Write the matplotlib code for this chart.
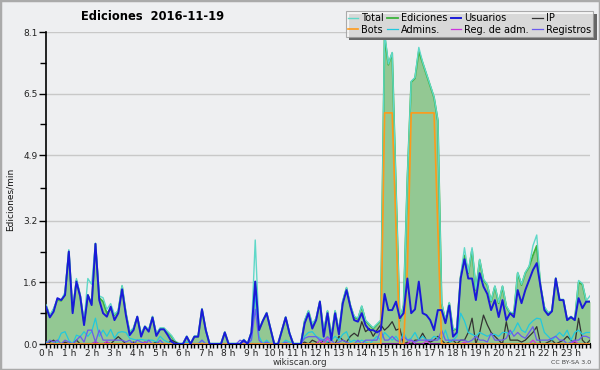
import numpy as np
import matplotlib
matplotlib.use("Agg")
import matplotlib.pyplot as plt
from matplotlib.patches import Rectangle

# 10-minute steps over the day (144 points), values in edits/min
hours = np.arange(144) / 6.0

usuarios = [0.97, 0.69, 0.84, 1.19, 1.14, 1.27, 2.4, 0.8, 1.62, 1.23, 0.49, 1.27, 1.01, 2.6, 1.14, 0.8,
            0.71, 0.97, 0.62, 0.8, 1.42, 0.75, 0.23, 0.36, 0.71, 0.19, 0.45, 0.32, 0.69, 0.21, 0.38, 0.38,
            0.23, 0.06, 0.0, 0.0, 0.0, 0.19, 0.0, 0.19, 0.19, 0.9, 0.36, 0.0, 0.0, 0.0, 0.0, 0.3,
            0.0, 0.0, 0.0, 0.0, 0.1, 0.0, 0.3, 1.62, 0.36, 0.6, 0.8, 0.4, 0.0, 0.0, 0.35, 0.69,
            0.28, 0.0, 0.0, 0.0, 0.54, 0.8, 0.4, 0.62, 1.1, 0.19, 0.8, 0.1, 0.8, 0.25, 1.05, 1.4,
            0.97, 0.62, 0.58, 0.8, 0.49, 0.36, 0.36, 0.3, 0.36, 1.3, 0.88, 0.88, 1.1, 0.67, 0.8, 1.7,
            0.8, 0.9, 1.62, 0.8, 0.75, 0.62, 0.36, 0.88, 0.88, 0.54, 1.0, 0.19, 0.3, 1.7, 2.2, 1.7,
            1.7, 1.14, 1.84, 1.49, 1.3, 0.88, 1.14, 0.7, 1.14, 0.62, 0.8, 0.7, 1.4, 1.06, 1.4, 1.66,
            1.92, 2.1, 1.49, 0.88, 0.75, 0.85, 1.7, 1.14, 1.14, 0.62, 0.7, 0.62, 1.19, 0.93, 1.1, 1.1]

ediciones = [1.0, 0.72, 0.9, 1.15, 1.12, 1.3, 2.4, 0.85, 1.65, 1.25, 0.55, 1.27, 1.05, 2.6, 1.2, 1.1,
             0.8, 0.9, 0.75, 0.85, 1.5, 0.8, 0.3, 0.4, 0.7, 0.25, 0.45, 0.35, 0.7, 0.25, 0.4, 0.4,
             0.3, 0.2, 0.05, 0.0, 0.0, 0.19, 0.0, 0.19, 0.19, 0.9, 0.36, 0.0, 0.0, 0.0, 0.0, 0.3,
             0.0, 0.0, 0.0, 0.0, 0.1, 0.0, 0.3, 1.62, 0.36, 0.6, 0.8, 0.4, 0.0, 0.0, 0.35, 0.69,
             0.28, 0.0, 0.0, 0.0, 0.6, 0.85, 0.5, 0.65, 1.1, 0.3, 0.85, 0.2, 0.85, 0.3, 1.1, 1.45,
             1.0, 0.7, 0.65, 0.97, 0.6, 0.5, 0.4, 0.5, 0.6, 8.0, 7.25, 7.55, 4.0, 0.6, 1.0, 4.3,
             6.8, 6.9, 7.6, 7.3, 7.0, 6.7, 6.4, 5.8, 1.05, 0.6, 1.06, 0.36, 0.4, 1.75, 2.3, 1.84,
             2.45, 1.4, 2.18, 1.66, 1.53, 1.1, 1.49, 1.06, 1.49, 0.97, 0.8, 0.8, 1.84, 1.53, 1.84, 2.0,
             2.3, 2.55, 1.5, 0.95, 0.8, 0.85, 1.7, 1.14, 1.14, 0.62, 0.7, 0.62, 1.6, 1.55, 1.1, 1.1]

total_extra = {5: 0.05, 6: 0.05, 8: 0.05, 11: 0.43, 12: 0.5, 14: 0.05, 15: 0.1, 16: 0.1, 17: 0.15,
               55: 1.08, 89: 0.1, 98: 0.1, 110: 0.2, 112: 0.05, 128: 0.25, 129: 0.28, 140: 0.05,
               143: 0.15}
total = [e + total_extra.get(i, 0.02) for i, e in enumerate(ediciones)]

ip = [0.0, 0.05, 0.1, 0.0, 0.0, 0.05, 0.0, 0.0, 0.1, 0.0, 0.0, 0.0, 0.0, 0.05, 0.0, 0.0,
      0.05, 0.0, 0.1, 0.19, 0.1, 0.0, 0.0, 0.05, 0.0, 0.0, 0.05, 0.0, 0.0, 0.05, 0.0, 0.0,
      0.0, 0.1, 0.05, 0.0, 0.0, 0.0, 0.0, 0.0, 0.0, 0.0, 0.0, 0.0, 0.0, 0.0, 0.0, 0.0,
      0.0, 0.0, 0.0, 0.0, 0.0, 0.0, 0.0, 0.0, 0.0, 0.0, 0.0, 0.0, 0.0, 0.0, 0.0, 0.0,
      0.0, 0.0, 0.0, 0.0, 0.05, 0.0, 0.1, 0.05, 0.0, 0.1, 0.05, 0.0, 0.0, 0.2, 0.1, 0.05,
      0.2, 0.28, 0.2, 0.58, 0.32, 0.4, 0.2, 0.36, 0.5, 0.36, 0.45, 0.58, 0.36, 0.4, 0.0, 0.05,
      0.0, 0.1, 0.1, 0.28, 0.1, 0.05, 0.1, 0.2, 0.1, 0.0, 0.05, 0.1, 0.0, 0.1, 0.1, 0.3,
      0.67, 0.0, 0.3, 0.75, 0.5, 0.3, 0.2, 0.1, 0.0, 0.58, 0.1, 0.1, 0.1, 0.05, 0.1, 0.2,
      0.3, 0.45, 0.0, 0.0, 0.05, 0.1, 0.0, 0.05, 0.1, 0.2, 0.1, 0.0, 0.67, 0.1, 0.0, 0.1]

bots_vals = {89: 6.0, 90: 6.0, 91: 6.0, 92: 3.0, 95: 2.0, 96: 6.0, 97: 6.0, 98: 6.0, 99: 6.0,
             100: 6.0, 101: 6.0, 102: 6.0, 103: 3.0}
bots = [bots_vals.get(i, 0.0) for i in range(144)]

admins = [0.06, 0.0, 0.0, 0.05, 0.28, 0.32, 0.1, 0.0, 0.23, 0.19, 0.32, 0.2, 0.32, 0.67, 0.2, 0.36,
          0.2, 0.38, 0.15, 0.3, 0.32, 0.3, 0.15, 0.12, 0.1, 0.12, 0.1, 0.1, 0.1, 0.05, 0.2, 0.1,
          0.05, 0.0, 0.0, 0.0, 0.0, 0.05, 0.0, 0.0, 0.0, 0.1, 0.0, 0.0, 0.0, 0.0, 0.0, 0.0,
          0.0, 0.0, 0.0, 0.0, 0.0, 0.0, 0.1, 1.3, 0.2, 0.0, 0.1, 0.0, 0.0, 0.0, 0.0, 0.1,
          0.05, 0.0, 0.0, 0.0, 0.2, 0.3, 0.32, 0.2, 0.15, 0.1, 0.05, 0.1, 0.2, 0.1, 0.25, 0.32,
          0.05, 0.1, 0.05, 0.1, 0.05, 0.0, 0.1, 0.2, 0.1, 0.3, 0.2, 0.1, 0.2, 0.05, 0.3, 0.1,
          0.15, 0.3, 0.1, 0.2, 0.1, 0.1, 0.2, 0.15, 0.1, 0.36, 0.05, 0.1, 0.2, 0.8, 0.6, 0.3,
          0.25, 0.2, 0.3, 0.25, 0.2, 0.25, 0.25, 0.2, 0.3, 0.3, 0.25, 0.35, 0.55, 0.36, 0.3, 0.5,
          0.6, 0.67, 0.65, 0.3, 0.2, 0.1, 0.2, 0.3, 0.2, 0.36, 0.1, 0.3, 0.36, 0.25, 0.3, 0.3]

reg_adm = [0.0] * 144
for i, v in {13: 0.06, 16: 0.06, 26: 0.05, 72: 0.1, 74: 0.15, 96: 0.1, 100: 0.08,
             110: 0.05, 128: 0.1, 139: 0.08}.items():
    reg_adm[i] = v

registros = [0.0, 0.1, 0.05, 0.1, 0.0, 0.1, 0.05, 0.0, 0.1, 0.2, 0.05, 0.36, 0.36, 0.05, 0.36, 0.1,
             0.1, 0.1, 0.1, 0.1, 0.1, 0.05, 0.1, 0.0, 0.1, 0.05, 0.0, 0.1, 0.0, 0.0, 0.1, 0.0,
             0.0, 0.0, 0.0, 0.0, 0.0, 0.0, 0.0, 0.0, 0.0, 0.1, 0.0, 0.0, 0.0, 0.0, 0.0, 0.0,
             0.0, 0.0, 0.0, 0.1, 0.05, 0.0, 0.1, 0.9, 0.1, 0.0, 0.05, 0.0, 0.0, 0.0, 0.0, 0.05,
             0.0, 0.0, 0.0, 0.0, 0.15, 0.19, 0.19, 0.19, 0.1, 0.1, 0.19, 0.1, 0.0, 0.05, 0.1, 0.05,
             0.0, 0.0, 0.1, 0.0, 0.1, 0.1, 0.1, 0.1, 0.36, 0.1, 0.1, 0.2, 0.1, 0.05, 0.2, 0.1,
             0.1, 0.05, 0.1, 0.1, 0.1, 0.1, 0.1, 0.1, 0.36, 0.1, 0.1, 0.1, 0.1, 0.1, 0.1, 0.05,
             0.1, 0.2, 0.1, 0.1, 0.05, 0.28, 0.1, 0.1, 0.1, 0.15, 0.36, 0.2, 0.3, 0.2, 0.15, 0.3,
             0.45, 0.1, 0.1, 0.1, 0.1, 0.15, 0.2, 0.1, 0.1, 0.0, 0.05, 0.1, 0.1, 0.2, 0.2, 0.15]

y_ticks = [0.0, 1.6, 3.2, 4.9, 6.5, 8.1]
y_max = 8.1
hour_labels = [f"{h} h" for h in range(24)]
title = "Ediciones  2016-11-19"

BG = "#eeeff1"
fig = plt.figure(figsize=(6.0, 3.7), dpi=100, facecolor=BG)
fig.patches.append(Rectangle((0, 0), 1, 1, transform=fig.transFigure, fill=False,
                             edgecolor="#aaaaaa", linewidth=2.5))
W, H = 600, 370
ax = fig.add_axes([46 / W, (H - 344) / H, 544 / W, 312 / H])
ax.set_facecolor(BG)

for yt in y_ticks[1:]:
    ax.axhline(yt, color="#c8c8c8", linewidth=1.0, zorder=0)

ax.fill_between(hours, ediciones, 0, color="#93c893", alpha=1.0, zorder=1, linewidth=0)
h_total, = ax.plot(hours, total, color="#5fd8c8", linewidth=1.0, zorder=3, label="Total")
h_edic, = ax.plot(hours, ediciones, color="#3bb33b", linewidth=1.3, zorder=2, label="Ediciones")
h_usu, = ax.plot(hours, usuarios, color="#1a1ad8", linewidth=1.4, zorder=6, label="Usuarios")
h_ip, = ax.plot(hours, ip, color="#333333", linewidth=0.9, zorder=4, label="IP")
h_bots, = ax.plot(hours, bots, color="#ff9a1a", linewidth=1.2, zorder=5, label="Bots")
h_adm, = ax.plot(hours, admins, color="#22c8dd", linewidth=0.9, zorder=4, label="Admins.")
h_reg, = ax.plot(hours, reg_adm, color="#cc33dd", linewidth=0.9, zorder=4, label="Reg. de adm.")
h_regs, = ax.plot(hours, registros, color="#6a5aee", linewidth=0.9, zorder=4, label="Registros")

ax.set_xlim(0, hours[-1])
ax.set_ylim(0, y_max)
for s in ["top", "right"]:
    ax.spines[s].set_visible(False)
ax.spines["left"].set_linewidth(1.2)
ax.spines["bottom"].set_linewidth(1.5)

ax.set_yticks(y_ticks)
ax.set_yticklabels([f"{v:.1f}" for v in y_ticks], fontsize=6.5, color="#222222")
ax.set_yticks([(a + b) / 2 for a, b in zip(y_ticks[:-1], y_ticks[1:])], minor=True)
ax.tick_params(axis="y", which="major", length=5, width=1, pad=1)
ax.tick_params(axis="y", which="minor", length=4, width=1)

ax.set_xticks(np.arange(24))
ax.set_xticklabels(hour_labels, fontsize=6.5, color="#222222")
ax.set_xticks(hours, minor=True)
ax.tick_params(axis="x", which="major", length=3, width=1, pad=0.3)
ax.tick_params(axis="x", which="minor", length=3, width=1)

fig.text(10 / W, 1 - 199 / H, "Ediciones/min", fontsize=6.5, rotation=90, ha="center", va="center",
         color="#111111")
fig.text(153 / W, 1 - 16 / H, title, fontsize=8.3, fontweight="bold", ha="center", va="center")
fig.text(300 / W, 1 - 362.5 / H, "wikiscan.org", fontsize=6.3, ha="center", va="center", color="#333333")
fig.text(591 / W, 1 - 363 / H, "CC BY-SA 3.0", fontsize=4.5, ha="right", va="center", color="#444444")

handles = [h_total, h_bots, h_edic, h_adm, h_usu, h_reg, h_ip, h_regs]
leg = fig.legend(handles=handles, labels=[h.get_label() for h in handles],
                 loc="upper right", bbox_to_anchor=(593 / W, 1 - 11 / H), ncol=4, fontsize=7,
                 frameon=True, fancybox=False, shadow=False, handlelength=1.1, handletextpad=0.3,
                 columnspacing=0.35, labelspacing=0.2, borderpad=0.2, borderaxespad=0)
leg.get_frame().set_edgecolor("#999999")
leg.get_frame().set_facecolor("#f6f6f6")
leg.get_frame().set_linewidth(0.8)
leg.set_zorder(10)
fig.canvas.draw()
bb = leg.get_window_extent()
inv = fig.transFigure.inverted()
(x0, y0), (x1, y1) = inv.transform([[bb.x0, bb.y0], [bb.x1, bb.y1]])
fig.patches.append(Rectangle((x0 + 3.5 / W, y0 - 3.5 / H), x1 - x0, y1 - y0, transform=fig.transFigure,
                             facecolor="#666666", edgecolor="none", zorder=9))

fig.savefig("out.png", dpi=100, facecolor=BG)
